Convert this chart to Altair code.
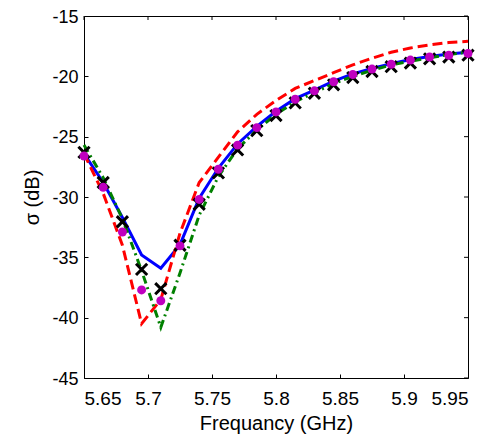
import altair as alt
import pandas as pd

freq = [5.65, 5.665, 5.68, 5.695, 5.71, 5.725, 5.74, 5.755, 5.77, 5.785, 5.8,
        5.815, 5.83, 5.845, 5.86, 5.875, 5.89, 5.905, 5.92, 5.935, 5.95]

blue_solid = [-26.4, -28.8, -31.7, -34.8, -35.9, -33.95, -30.1, -27.6, -25.6, -24.15, -22.9,
              -21.85, -21.15, -20.4, -19.8, -19.35, -18.95, -18.6, -18.35, -18.15, -18.0]
red_dashed = [-26.4, -29.7, -34.0, -40.5, -38.5, -33.0, -28.8, -26.7, -24.6, -23.15, -22.0,
              -21.0, -20.35, -19.7, -19.05, -18.5, -18.0, -17.65, -17.4, -17.2, -17.1]
green_dashdot = [-25.7, -28.4, -31.8, -36.1, -40.8, -36.3, -31.5, -28.3, -26.0, -24.45, -23.15,
                 -22.1, -21.35, -20.6, -20.0, -19.5, -19.05, -18.75, -18.45, -18.2, -18.0]
black_cross = [-26.3, -28.8, -32.05, -36.0, -37.6, -34.0, -30.6, -28.0, -26.1, -24.5, -23.25,
               -22.2, -21.4, -20.7, -20.1, -19.6, -19.2, -18.9, -18.55, -18.4, -18.25]
magenta_dot = [-26.6, -29.2, -32.9, -37.7, -38.6, -34.05, -30.2, -27.7, -25.7, -24.25, -22.95,
               -21.9, -21.2, -20.45, -19.85, -19.4, -19.0, -18.65, -18.4, -18.25, -18.1]

x_ticks = [5.65, 5.7, 5.75, 5.8, 5.85, 5.9, 5.95]
y_ticks = [-45, -40, -35, -30, -25, -20, -15]

W, H = 384, 362
FONT = "Liberation Sans"
XT = "Frequancy (GHz)"
YT = "σ (dB)"

df = pd.DataFrame({
    "freq": freq, "blue": blue_solid, "red": red_dashed, "green": green_dashdot,
    "cross": black_cross, "dot": magenta_dot,
})
xt_df = pd.DataFrame({"tx": x_ticks})
yt_df = pd.DataFrame({"ty": y_ticks})

xscale = alt.Scale(domain=[5.65, 5.95], nice=False, zero=False)
yscale = alt.Scale(domain=[-45, -15], nice=False, zero=False)

x_axis = alt.Axis(values=x_ticks, labelExpr="'' + datum.value", offset=-4, tickSize=4,
                  labelPadding=11, domain=False, grid=False, title=XT,
                  titleY=49, titleBaseline="middle",
                  labelFont=FONT, labelFontSize=19, labelColor="black",
                  titleFont=FONT, titleFontSize=20, titleColor="black", titleFontWeight="normal",
                  tickColor="black", tickWidth=1)
y_axis = alt.Axis(values=y_ticks, labelExpr="'' + datum.value", offset=-4, tickSize=4,
                  labelPadding=6, labelOffset=1, domain=False, grid=False, title=YT,
                  titleX=-56, titleBaseline="middle",
                  labelFont=FONT, labelFontSize=18, labelColor="black",
                  titleFont=FONT, titleFontSize=20, titleColor="black", titleFontWeight="normal",
                  tickColor="black", tickWidth=1)

X = alt.X("freq:Q", scale=xscale, axis=x_axis, title=XT)

base = alt.Chart(df)

blue = base.mark_line(color="#0000FF", strokeWidth=3).encode(
    x=X, y=alt.Y("blue:Q", scale=yscale, axis=y_axis, title=YT))
red = base.mark_line(color="#FF0000", strokeWidth=3, strokeDash=[10, 5]).encode(
    x=X, y=alt.Y("red:Q", scale=yscale, title=YT))
green = base.mark_line(color="#008000", strokeWidth=3, strokeDash=[8, 4, 2, 4]).encode(
    x=X, y=alt.Y("green:Q", scale=yscale, title=YT))
cross = base.mark_point(shape="M-1,-1L1,1M-1,1L1,-1", filled=False, color="black",
                        strokeWidth=3, size=125, opacity=1).encode(
    x=X, y=alt.Y("cross:Q", scale=yscale, title=YT))
dot = base.mark_point(shape="circle", filled=True, color="#BF00BF", size=80, opacity=1).encode(
    x=X, y=alt.Y("dot:Q", scale=yscale, title=YT))

top_ticks = alt.Chart(xt_df).mark_rule(color="black", strokeWidth=1).encode(
    x=alt.X("tx:Q", scale=xscale, title=XT),
    y=alt.value(0), y2=alt.value(4))
right_ticks = alt.Chart(yt_df).mark_rule(color="black", strokeWidth=1).encode(
    y=alt.Y("ty:Q", scale=yscale, title=YT),
    x=alt.value(W - 4), x2=alt.value(W))

chart = alt.layer(blue, red, green, cross, dot, top_ticks, right_ticks).properties(
    width=W, height=H,
    autosize=alt.AutoSizeParams(type="none"),
    padding={"left": 76, "top": 8, "right": 21, "bottom": 57},
    background="white",
).configure_view(
    stroke="black", strokeWidth=1
)

chart.save("out.html", embed_options={"renderer": "svg", "actions": False})
